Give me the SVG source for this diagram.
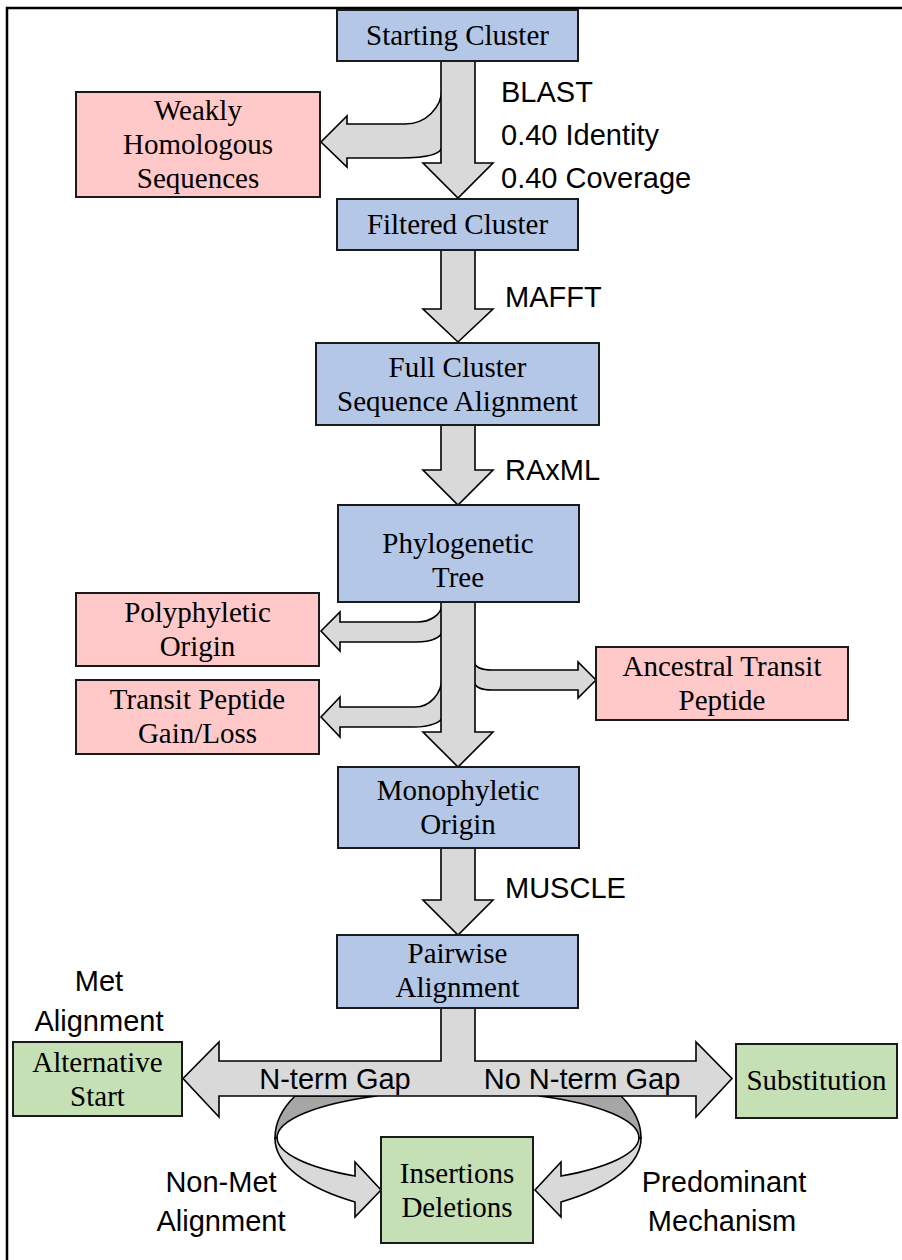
<svg xmlns="http://www.w3.org/2000/svg" width="902" height="1260" viewBox="0 0 902 1260">
<style>
.bx{stroke:#1a1a1a;stroke-width:2}
.blue{fill:#b4c7e7}
.pink{fill:#ffc9c9}
.green{fill:#c5e0b4}
.ar{fill:#d9d9d9;stroke:#000;stroke-width:1.6;stroke-linejoin:miter}
.dk{fill:#a6a6a6;stroke:#000;stroke-width:1.6}
.t{font-family:"Liberation Serif","Times New Roman",serif;font-size:29px;fill:#000;text-anchor:middle}
.s{font-family:"Liberation Sans",Arial,sans-serif;font-size:29px;fill:#000}
.sc{font-family:"Liberation Sans",Arial,sans-serif;font-size:29px;fill:#000;text-anchor:middle}
</style>
<rect width="902" height="1260" fill="#fff"/>
<path d="M7,1260 V8 H902" fill="none" stroke="#000" stroke-width="2.5"/>
<g id="connectors">
<path class="ar" d="M442,88 A37,36 0 0 1 405,124 H347 V116 L321,142 L347,167 V158 H400 C425,158 442,155 442,146 Z"/>
<path class="ar" d="M441,61 V163 H423 L458,198 L493,163 H475 V61 Z"/>
<path class="ar" d="M441,250 V309 H423 L458,342 L493,309 H475 V250 Z"/>
<path class="ar" d="M441,425 V470 H423 L458,505 L493,470 H475 V425 Z"/>
<path class="ar" d="M442,604 A25,18 0 0 1 416,622 H340 V612 L321,631 L340,651 V642 H416 C432,642 442,637 442,631 Z"/>
<path class="ar" d="M442,677 A27,30 0 0 1 414,707 H340 V697 L321,717 L340,737 V727 H414 C430,727 442,722 442,717 Z"/>
<path class="ar" d="M474,662 Q476,670 492,670 H578 V662 L596,680 L578,698 V690 H492 Q476,690 474,682 Z"/>
<path class="ar" d="M441,602 V732 H423 L458,767 L493,732 H475 V602 Z"/>
<path class="ar" d="M441,848 V900 H423 L458,935 L493,900 H475 V848 Z"/>
<path class="dk" d="M295,1096 A183,92 0 0 0 275,1138 L277,1138 A181,47 0 0 1 377,1096 Z"/>
<path class="dk" d="M621,1096 A183,92 0 0 1 641,1138 L639,1138 A181,47 0 0 0 539,1096 Z"/>
<path class="ar" d="M441,1008 V1061 H219 V1042 L183,1078.5 L219,1117 V1096 H696 V1117 L732,1078.5 L696,1042 V1061 H475 V1008 Z"/>
<path class="ar" d="M275,1138 A183,77 0 0 0 355,1202 V1217 L381,1190 L355,1162 V1176 A181,47 0 0 1 277,1138 Z"/>
<path class="ar" d="M641,1138 A183,77 0 0 1 561,1202 V1217 L535,1190 L561,1162 V1176 A181,47 0 0 0 639,1138 Z"/>
</g>
<g id="edge-labels">
<text class="s" x="501" y="102">BLAST</text>
<text class="s" x="501" y="145">0.40 Identity</text>
<text class="s" x="501" y="188">0.40 Coverage</text>
<text class="s" x="505" y="307">MAFFT</text>
<text class="s" x="505" y="480">RAxML</text>
<text class="s" x="505" y="898">MUSCLE</text>
<text class="sc" x="335" y="1089">N-term Gap</text>
<text class="sc" x="582" y="1089">No N-term Gap</text>
<text class="sc" x="99" y="991">Met</text>
<text class="sc" x="99" y="1031">Alignment</text>
<text class="sc" x="221" y="1192">Non-Met</text>
<text class="sc" x="221" y="1231">Alignment</text>
<text class="sc" x="724" y="1192">Predominant</text>
<text class="sc" x="722" y="1231">Mechanism</text>
</g>
<g id="starting-cluster"><rect class="bx blue" x="337" y="10" width="241" height="51"/><text class="t" x="457.5" y="45">Starting Cluster</text></g>
<g id="weakly-homologous"><rect class="bx pink" x="76" y="92" width="244" height="105"/><text class="t" x="198" y="120">Weakly</text><text class="t" x="198" y="154">Homologous</text><text class="t" x="198" y="188">Sequences</text></g>
<g id="filtered-cluster"><rect class="bx blue" x="337" y="199" width="241" height="51"/><text class="t" x="457.5" y="234">Filtered Cluster</text></g>
<g id="full-cluster-alignment"><rect class="bx blue" x="316" y="343" width="283" height="82"/><text class="t" x="457.5" y="377">Full Cluster</text><text class="t" x="457.5" y="411">Sequence Alignment</text></g>
<g id="phylogenetic-tree"><rect class="bx blue" x="338" y="505" width="241" height="97"/><text class="t" x="458" y="553">Phylogenetic</text><text class="t" x="458" y="587">Tree</text></g>
<g id="polyphyletic-origin"><rect class="bx pink" x="76" y="593" width="243" height="73"/><text class="t" x="197.5" y="622">Polyphyletic</text><text class="t" x="197.5" y="656">Origin</text></g>
<g id="transit-peptide-gain-loss"><rect class="bx pink" x="76" y="680" width="243" height="74"/><text class="t" x="197.5" y="709">Transit Peptide</text><text class="t" x="197.5" y="743">Gain/Loss</text></g>
<g id="ancestral-transit-peptide"><rect class="bx pink" x="596" y="647" width="252" height="73"/><text class="t" x="722" y="676">Ancestral Transit</text><text class="t" x="722" y="710">Peptide</text></g>
<g id="monophyletic-origin"><rect class="bx blue" x="338" y="767" width="241" height="81"/><text class="t" x="458" y="800">Monophyletic</text><text class="t" x="458" y="834">Origin</text></g>
<g id="pairwise-alignment"><rect class="bx blue" x="337" y="935" width="241" height="73"/><text class="t" x="457.5" y="963">Pairwise</text><text class="t" x="457.5" y="997">Alignment</text></g>
<g id="alternative-start"><rect class="bx green" x="13" y="1042" width="169" height="74"/><text class="t" x="97.5" y="1072">Alternative</text><text class="t" x="97.5" y="1106">Start</text></g>
<g id="substitution"><rect class="bx green" x="736" y="1044" width="161" height="74"/><text class="t" x="816.5" y="1090">Substitution</text></g>
<g id="insertions-deletions"><rect class="bx green" x="381" y="1137" width="152" height="106"/><text class="t" x="457" y="1183">Insertions</text><text class="t" x="457" y="1217">Deletions</text></g>
</svg>
